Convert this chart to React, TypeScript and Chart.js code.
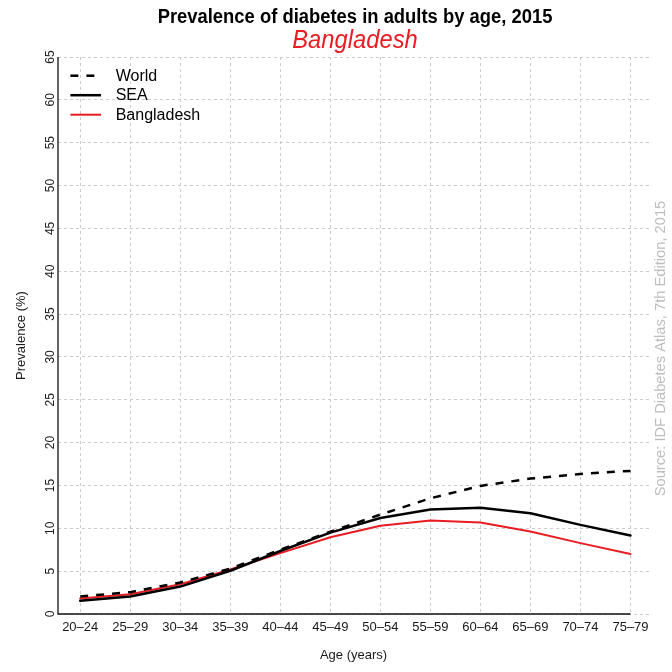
import React, { useEffect, useRef } from 'react';
import { Chart, registerables } from 'chart.js';

Chart.register(...registerables);

const categories = ['20–24', '25–29', '30–34', '35–39', '40–44', '45–49', '50–54', '55–59', '60–64', '65–69', '70–74', '75–79'];
const worldValues = [2.05, 2.55, 3.67, 5.3, 7.5, 9.6, 11.6, 13.5, 14.95, 15.8, 16.35, 16.7];
const seaValues = [1.54, 2.05, 3.2, 5.05, 7.35, 9.5, 11.2, 12.2, 12.4, 11.75, 10.4, 9.15];
const bangladeshValues = [1.8, 2.3, 3.48, 5.2, 7.1, 8.95, 10.3, 10.9, 10.67, 9.63, 8.27, 7.0];
const yTicks = [0, 5, 10, 15, 20, 25, 30, 35, 40, 45, 50, 55, 60, 65];

const titleText = 'Prevalence of diabetes in adults by age, 2015';
const subtitleText = 'Bangladesh';
const xTitle = 'Age (years)';
const yTitle = 'Prevalence (%)';
const sourceText = 'Source: IDF Diabetes Atlas, 7th Edition, 2015';

const FONT = "'Liberation Sans', Arial, Helvetica, sans-serif";
const RED = '#e81c22';
const GRID = '#cccccc';

export default function App() {
  const ref = useRef<HTMLCanvasElement>(null);

  useEffect(() => {
    if (!ref.current) return;
    const toPts = (vals: number[]) => vals.map((v, i) => ({ x: i, y: v }));

    const overlay = {
      id: 'overlay',
      afterDraw(chart: any) {
        const ctx = chart.ctx as CanvasRenderingContext2D;
        const xs = chart.scales.x;
        const ys = chart.scales.y;
        const area = chart.chartArea;
        const x0 = area.left;
        const yB = ys.getPixelForValue(yTicks[0]);
        const yT = ys.getPixelForValue(yTicks[yTicks.length - 1]);
        const xE = xs.getPixelForValue(categories.length - 1);
        ctx.save();
        // axes
        ctx.strokeStyle = '#111';
        ctx.lineWidth = 1.3;
        ctx.setLineDash([]);
        ctx.beginPath();
        ctx.moveTo(x0, yT);
        ctx.lineTo(x0, yB);
        ctx.lineTo(xE, yB);
        ctx.stroke();

        // titles
        const cx = 355;
        ctx.save();
        ctx.translate(cx, 17.5);
        ctx.scale(0.92, 1.05);
        ctx.fillStyle = '#000';
        ctx.font = `bold 20px ${FONT}`;
        ctx.textAlign = 'center';
        ctx.textBaseline = 'middle';
        ctx.fillText(titleText, 0, 0);
        ctx.restore();
        ctx.save();
        ctx.translate(cx, 41);
        ctx.scale(0.95, 1.05);
        ctx.fillStyle = RED;
        ctx.font = `italic 25px ${FONT}`;
        ctx.textAlign = 'center';
        ctx.textBaseline = 'middle';
        ctx.fillText(subtitleText, 0, 0);
        ctx.restore();

        // legend
        const rows = chart.data.datasets;
        rows.forEach((ds: any, i: number) => {
          const y = area.top + 18.7 + i * 19.5;
          ctx.strokeStyle = ds.borderColor;
          ctx.lineWidth = ds.borderWidth;
          ctx.setLineDash(ds.borderDash || []);
          ctx.lineCap = 'butt';
          ctx.beginPath();
          ctx.moveTo(x0 + 12.4, y);
          ctx.lineTo(x0 + 43, y);
          ctx.stroke();
          ctx.setLineDash([]);
          ctx.fillStyle = '#000';
          ctx.font = `16px ${FONT}`;
          ctx.textAlign = 'left';
          ctx.textBaseline = 'middle';
          ctx.fillText(ds.label, x0 + 57.7, y + 0.5);
        });

        // source
        ctx.translate(661, 348.5);
        ctx.rotate(-Math.PI / 2);
        ctx.fillStyle = '#bdbdbd';
        ctx.font = `14.7px ${FONT}`;
        ctx.textAlign = 'center';
        ctx.textBaseline = 'middle';
        ctx.fillText(sourceText, 0, 0);
        ctx.restore();
      },
    };

    const chart = new Chart(ref.current, {
      type: 'line',
      data: {
        datasets: [
          {
            label: 'World',
            data: toPts(worldValues),
            borderColor: '#000000',
            borderWidth: 2.5,
            borderDash: [8, 8],
            pointRadius: 0,
            tension: 0,
            fill: false,
          },
          {
            label: 'SEA',
            data: toPts(seaValues),
            borderColor: '#000000',
            borderWidth: 2.5,
            pointRadius: 0,
            tension: 0,
            fill: false,
            borderCapStyle: 'round',
            borderJoinStyle: 'round',
          },
          {
            label: 'Bangladesh',
            data: toPts(bangladeshValues),
            borderColor: RED,
            borderWidth: 2,
            pointRadius: 0,
            tension: 0,
            fill: false,
            borderCapStyle: 'round',
            borderJoinStyle: 'round',
          },
        ],
      },
      options: {
        animation: false,
        responsive: false,
        maintainAspectRatio: false,
        events: [],
        layout: { padding: { left: 0, right: 23, top: 57, bottom: 0 } },
        plugins: {
          legend: { display: false },
          tooltip: { enabled: false },
          title: { display: false },
          subtitle: { display: false },
        },
        scales: {
          x: {
            type: 'linear',
            min: -0.444,
            max: 11.37,
            afterBuildTicks: (s: any) => {
              s.ticks = categories.map((_, i) => ({ value: i }));
            },
            afterFit: (s: any) => {
              s.height = 58;
            },
            grid: { color: GRID, lineWidth: 1, drawTicks: false },
            border: { display: false, dash: [3, 3] },
            ticks: {
              padding: 6,
              color: '#1a1a1a',
              font: { family: FONT, size: 13 },
              autoSkip: false,
              maxRotation: 0,
              minRotation: 0,
              callback: (v: any) => categories[v as number],
            },
            title: {
              display: true,
              text: xTitle,
              color: '#1a1a1a',
              font: { family: FONT, size: 13 },
              padding: { top: 0, bottom: 9.2 },
            },
          },
          y: {
            min: 0,
            max: 65,
            afterBuildTicks: (s: any) => {
              s.ticks = yTicks.map((v) => ({ value: v }));
            },
            afterFit: (s: any) => {
              s.width = 58;
            },
            grid: { color: GRID, lineWidth: 1, drawTicks: false },
            border: { display: false, dash: [3, 3] },
            ticks: {
              padding: 1,
              color: '#1a1a1a',
              font: { family: FONT, size: 12 },
              minRotation: 90,
              maxRotation: 90,
              crossAlign: 'center',
              autoSkip: false,
            },
            title: {
              display: true,
              text: yTitle,
              color: '#1a1a1a',
              font: { family: FONT, size: 13 },
              padding: { top: 13.2, bottom: 0 },
            },
          },
        },
      },
      plugins: [overlay],
    } as any);

    return () => chart.destroy();
  }, []);

  return (
    <div style={{ position: 'fixed', left: 0, top: 0, width: 672, height: 672, background: '#fff' }}>
      <canvas ref={ref} width={672} height={672} style={{ width: 672, height: 672, display: 'block' }} />
    </div>
  );
}
